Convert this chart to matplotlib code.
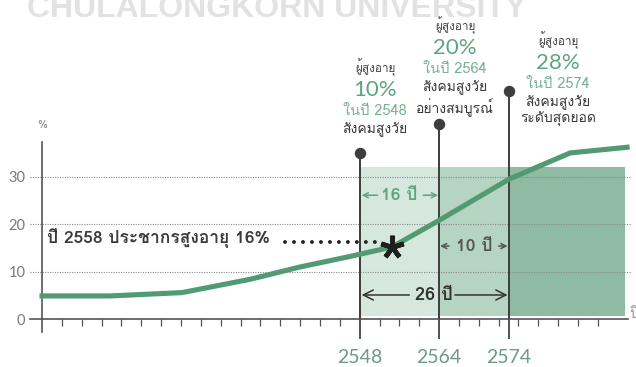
import matplotlib
matplotlib.use('Agg')
import matplotlib.pyplot as plt
from matplotlib import font_manager, ft2font


def find_thai_family():
    # first installed font that has Thai glyphs (U+0E1B)
    for f in font_manager.fontManager.ttflist:
        try:
            if 0x0E1B in ft2font.FT2Font(f.fname).get_charmap():
                return f.name
        except Exception:
            continue
    return None


thai = find_thai_family()
thai_fam = [thai, 'DejaVu Sans'] if thai else ['DejaVu Sans']
plt.rcParams['font.family'] = thai_fam

# elderly share of population, x in tick positions along the time axis
x_pos = [0, 3.43, 7.05, 10.48, 13.0, 15.5, 17.63, 20.0, 23.53, 26.6, 29.47]
elderly_pct = [4.9, 4.9, 5.6, 8.4, 11.0, 13.2, 15.2, 20.8, 29.5, 35.0, 36.2]

# milestones
milestone_pos = [16, 20, 23.5]
milestone_years = ['2548', '2564', '2574']
milestone_pct = ['10%', '20%', '28%']
milestone_desc = ['สังคมสูงวัย', 'สังคมสูงวัย\nอย่างสมบูรณ์', 'สังคมสูงวัย\nระดับสุดยอด']
dot_heights = [34.9, 41.0, 48.0]
label_x = [16.78, 20.8, 26.0]
label_top = [53.1, 61.9, 58.8]

# shaded periods
band_start = [16, 20, 23.5]
band_width = [4, 3.5, 5.87]
band_colors = ['#d6e8dd', '#b5d4c2', '#8fbba2']
band_top = 32.0

yticks = [0, 10, 20, 30]
star_pos, star_pct = 17.63, 15.2
note_text = 'ปี 2558 ประชากรสูงอายุ 16%'

green = '#5ea57f'
dark = '#333333'

fig = plt.figure(figsize=(6.36, 3.67), dpi=100)
ax = fig.add_axes([0, 0, 1, 1])
ax.set_xlim(-2.116, 29.92)
ax.set_ylim(-10.06, 67.2)

# watermark, cut by the top edge
fig.text(27 / 636, 1 - 17 / 367, 'CHULALONGKORN UNIVERSITY',
         family=['Liberation Sans Narrow', 'Liberation Sans'],
         fontsize=23, fontweight='bold', color='#e2e2e2', va='baseline', ha='left')

# shaded periods
ax.bar(band_start, band_top - 0.6, width=band_width, bottom=0.6, align='edge',
       color=band_colors, zorder=1)

# dotted grid
ax.hlines(yticks[1:], -0.6, 29.6, colors='#8a8a8a', linestyles=(0, (1, 1.2)),
          linewidth=0.8, zorder=2)

# axes
for s in ['top', 'right']:
    ax.spines[s].set_visible(False)
ax.spines['left'].set_position(('data', 0))
ax.spines['bottom'].set_position(('data', 0))
ax.spines['left'].set_bounds(-2.7, 37.3)
ax.spines['bottom'].set_bounds(-0.6, 29.5)
for s in ['left', 'bottom']:
    ax.spines[s].set_color('#555555')
    ax.spines[s].set_linewidth(1.2)
    ax.spines[s].set_zorder(3)

ax.set_yticks(yticks)
ax.tick_params(axis='y', length=0, pad=12, labelsize=10.5, labelcolor='#7a7a7a')
ax.set_xticks(milestone_pos, labels=milestone_years)
ax.set_xticks(range(1, 29), minor=True)
ax.tick_params(axis='x', which='major', length=14.5, width=1.3, color='#444444',
               pad=7, labelsize=14, labelcolor='#6a9c82')
ax.tick_params(axis='x', which='minor', length=5, width=0.9, color='#555555')
for lbl in ax.get_xticklabels() + ax.get_yticklabels():
    lbl.set_family('Lato')

ax.text(0, 40.9, '%', ha='center', va='center', fontsize=8, color='#888888')
ax.text(29.6, 1.0, 'ปี', ha='left', va='center', fontsize=11, color='#999999')

# milestone lines with dots
ax.vlines(milestone_pos, 0, dot_heights, color='#3d3d3d', linewidth=1.4, zorder=4)
ax.scatter(milestone_pos, dot_heights, s=52, color='#3d3d3d', zorder=4)

# elderly share line
ax.plot(x_pos, elderly_pct, color='#529b72', linewidth=3.7, zorder=5,
        solid_joinstyle='round')

# 2558 note with dotted leader and star
ax.text(0.25, 17.1, note_text, ha='left', va='center', fontsize=12.5,
        fontweight='bold', color='#3a3a3a', zorder=6)
ax.plot([12.24, 17.1], [16.25, 16.25], color='#1f1f1f', linewidth=2.8,
        linestyle=(0, (0.01, 2.3)), dash_capstyle='round', zorder=6)
ax.plot(star_pos, star_pct, marker=(5, 2, 0), markersize=17, markeredgewidth=3.4,
        color='#1f1f1f', zorder=7)

# milestone text groups
for i in range(3):
    x, top = label_x[i], label_top[i]
    ax.text(x, top, 'ผู้สูงอายุ', ha='center', va='center', fontsize=8.5, color='#444444')
    ax.text(x, top - 4.9, milestone_pct[i], ha='center', va='center', fontsize=16,
            family='Lato', color=green)
    ax.text(x, top - 9.2, 'ในปี ' + milestone_years[i], ha='center', va='center',
            fontsize=10.5, color='#78b292')
    ax.text(x, top - 11.6, milestone_desc[i], ha='center', va='top', fontsize=10,
            color='#3a3a3a', linespacing=1.2)

# period arrows
def period(x_text, y, text, x0, x1, l_edge, r_edge, color, size, head):
    ax.text(x_text, y, text, ha='center', va='center', fontsize=size,
            fontweight='bold', color=color, zorder=6)
    props = dict(arrowstyle='->', color=color, lw=1.1, mutation_scale=head,
                 shrinkA=0, shrinkB=0)
    ax.annotate('', xy=(x0, y), xytext=(l_edge, y), arrowprops=props)
    ax.annotate('', xy=(x1, y), xytext=(r_edge, y), arrowprops=props)


period(18.0, 26.1, '16 ปี', 16.1, 19.95, 16.9, 19.2, green, 12.5, 9)
period(21.76, 15.4, '10 ปี', 20.05, 23.45, 20.5, 23.0, '#555555', 12.5, 9)
period(19.75, 5.1, '26 ปี', 16.1, 23.45, 18.5, 20.8, dark, 13, 18)

fig.savefig('out.png', dpi=100, facecolor='white')
